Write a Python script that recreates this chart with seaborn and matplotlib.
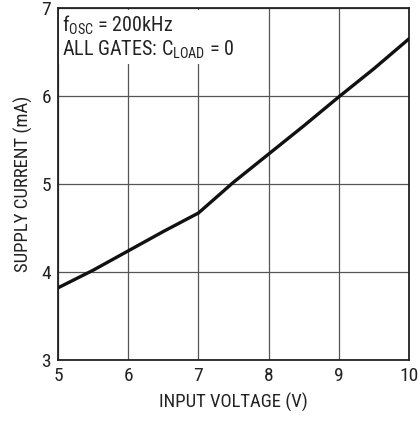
import matplotlib
matplotlib.use("Agg")
import matplotlib.pyplot as plt
import seaborn as sns
import pandas as pd

# данные
input_voltage = [5.0, 5.5, 6.0, 6.5, 7.0, 7.5, 8.0, 8.5, 9.0, 9.5, 10.0]
supply_current = [3.82, 4.02, 4.24, 4.46, 4.67, 5.02, 5.34, 5.66, 5.99, 6.31, 6.65]
x_ticks = [5, 6, 7, 8, 9, 10]
y_ticks = [3, 4, 5, 6, 7]

df = pd.DataFrame({"vin": input_voltage, "icc": supply_current})

sns.set_theme(style="white")
plt.rcParams["font.family"] = ["Roboto Condensed", "DejaVu Sans"]

fig = plt.figure(figsize=(4.19, 4.21), dpi=100)
ax = fig.add_axes([58 / 419, 61 / 421, 351 / 419, 352 / 421])

sns.lineplot(data=df, x="vin", y="icc", ax=ax, color="#111111", linewidth=2.4, zorder=3)

ax.set_xlim(5, 10)
ax.set_ylim(3, 7)
ax.set_xticks(x_ticks)
ax.set_yticks(y_ticks)
ax.tick_params(labelsize=14, length=0, pad=5, colors="#222222")
ax.grid(True, color="#555555", linewidth=0.9)
for s in ax.spines.values():
    s.set_color("#222222")
    s.set_linewidth(1.3)

ax.set_xlabel("INPUT VOLTAGE (V)", fontsize=13.5, color="#222222", labelpad=6)
ax.set_ylabel("SUPPLY CURRENT (mA)", fontsize=13.5, color="#222222", labelpad=6)

# подпись условий в левом верхнем углу (белая подложка закрывает сетку)
ax.text(5.05, 6.94, "f$_{\\mathregular{OSC}}$ = 200kHz\nALL GATES: C$_{\\mathregular{LOAD}}$ = 0",
        fontsize=14.5, color="#222222", va="top", ha="left", linespacing=1.15,
        bbox=dict(facecolor="white", edgecolor="none", pad=2), zorder=2)

plt.savefig("out.png", dpi=100)
